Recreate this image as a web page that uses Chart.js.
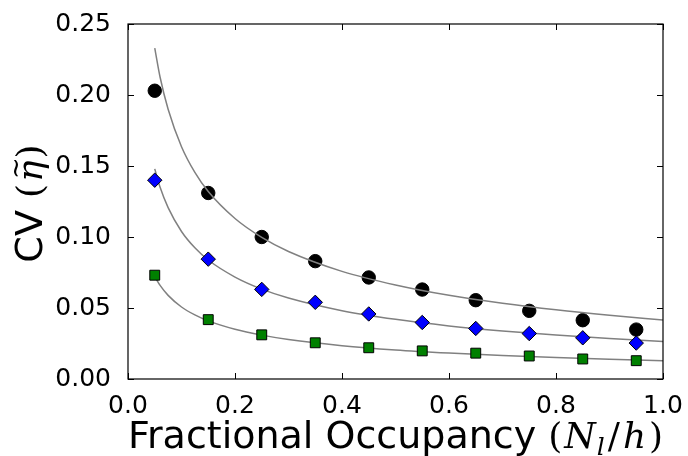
<!DOCTYPE html>
<html>
<head>
<meta charset="utf-8">
<script src="https://cdn.jsdelivr.net/npm/chart.js@4.4.0/dist/chart.umd.min.js"></script>
<style>
  html, body { margin: 0; padding: 0; background: #fff; }
  #wrap { width: 688px; height: 456px; position: relative; }
</style>
</head>
<body>
<div id="wrap"><canvas id="grafico"></canvas></div>
<script>
// ocupação fracionária (eixo X) e CV medido de cada série
const occupancy = [0.05, 0.15, 0.25, 0.35, 0.45, 0.55, 0.65, 0.75, 0.85, 0.95];
const cvBlack = [0.203, 0.131, 0.100, 0.083, 0.0715, 0.063, 0.0555, 0.048, 0.0414, 0.0348];
const cvBlue = [0.140, 0.0844, 0.0631, 0.054, 0.0458, 0.0398, 0.0356, 0.032, 0.029, 0.0253];
const cvGreen = [0.0731, 0.0418, 0.0311, 0.0255, 0.022, 0.0198, 0.0182, 0.0162, 0.0141, 0.0129];

// curvas cinzas (ajuste)
const fitX = [0.05, 0.06, 0.075, 0.1, 0.125, 0.15, 0.2, 0.25, 0.3, 0.4, 0.5, 0.6, 0.7, 0.8, 0.9, 1.0];
const fitBlack = [0.233, 0.2125, 0.190, 0.1636, 0.1455, 0.132, 0.113, 0.0997, 0.0898, 0.0758, 0.0662, 0.0589, 0.0533, 0.0487, 0.0449, 0.0416];
const fitBlue = [0.148, 0.135, 0.1207, 0.1039, 0.0924, 0.0838, 0.0718, 0.0633, 0.0570, 0.0481, 0.0420, 0.0374, 0.0338, 0.0309, 0.0285, 0.0264];
const fitGreen = [0.0722, 0.0659, 0.0589, 0.0507, 0.0451, 0.0409, 0.0350, 0.0309, 0.0278, 0.0235, 0.0205, 0.0183, 0.0165, 0.0151, 0.0139, 0.0129];

const xTicks = [0, 0.2, 0.4, 0.6, 0.8, 1.0];
const xTickLabels = ["0.0", "0.2", "0.4", "0.6", "0.8", "1.0"];
const yTicks = [0, 0.05, 0.10, 0.15, 0.20, 0.25];
const yTickLabels = ["0.00", "0.05", "0.10", "0.15", "0.20", "0.25"];

const pts = (xs, ys) => xs.map((x, i) => ({ x: x, y: ys[i] }));

const SANS = "'DejaVu Sans', sans-serif";
const SERIF = "'DejaVu Serif', serif";

// mede/desenha uma sequência de pedaços de texto (fonte, deslocamento, espaço extra)
function medir(ctx, partes) {
  let total = 0;
  partes.forEach((p) => {
    ctx.font = p.f;
    p.w = ctx.measureText(p.t).width + (p.gap || 0);
    total += p.w;
  });
  return total;
}

function desenhar(ctx, partes, x0, y0) {
  let cx = x0;
  partes.forEach((p) => {
    ctx.font = p.f;
    ctx.fillText(p.t, cx, y0 + (p.dy || 0));
    if (p.til) {
      // til sobre o eta
      ctx.font = "26px " + SERIF;
      ctx.fillText("~", cx + 3, y0 - 18);
    }
    cx += p.w;
  });
}

// moldura, ticks internos e títulos dos eixos
const molduraPlugin = {
  id: "moldura",
  afterDraw(chart) {
    const ctx = chart.ctx;
    const a = chart.chartArea;
    const sx = chart.scales.x;
    const sy = chart.scales.y;
    ctx.save();
    ctx.strokeStyle = "#000";
    ctx.lineWidth = 1;

    const tl = 6;
    ctx.beginPath();
    xTicks.forEach((v) => {
      const px = Math.round(sx.getPixelForValue(v)) + 0.5;
      ctx.moveTo(px, a.bottom); ctx.lineTo(px, a.bottom - tl);
      ctx.moveTo(px, a.top); ctx.lineTo(px, a.top + tl);
    });
    yTicks.forEach((v) => {
      const py = Math.round(sy.getPixelForValue(v)) + 0.5;
      ctx.moveTo(a.left, py); ctx.lineTo(a.left + tl, py);
      ctx.moveTo(a.right, py); ctx.lineTo(a.right - tl, py);
    });
    ctx.stroke();

    ctx.lineWidth = 1.2;
    ctx.strokeRect(a.left, a.top, a.right - a.left, a.bottom - a.top);

    ctx.fillStyle = "#000";
    ctx.textBaseline = "alphabetic";
    ctx.textAlign = "left";

    // título do eixo X
    const partesX = [
      { t: "Fractional Occupancy ", f: "38px " + SANS },
      { t: "(", f: "36px " + SERIF, gap: 2 },
      { t: "N", f: "italic 36px " + SERIF, gap: 1 },
      { t: "l", f: "italic 25px " + SERIF, dy: 7, gap: 3 },
      { t: "/", f: "36px " + SERIF, gap: 3 },
      { t: "h", f: "italic 36px " + SERIF, gap: 3 },
      { t: ")", f: "36px " + SERIF },
    ];
    const totalX = medir(ctx, partesX);
    desenhar(ctx, partesX, (a.left + a.right) / 2 - totalX / 2, 448);

    // título do eixo Y (rotacionado)
    const partesY = [
      { t: "CV ", f: "38px " + SANS },
      { t: "(", f: "36px " + SERIF, gap: 2 },
      { t: "\u03B7", f: "italic 36px " + SERIF, gap: 2, til: true },
      { t: ")", f: "36px " + SERIF },
    ];
    const totalY = medir(ctx, partesY);
    ctx.translate(42, (a.top + a.bottom) / 2 + 2);
    ctx.rotate(-Math.PI / 2);
    desenhar(ctx, partesY, -totalY / 2, 0);
    ctx.restore();
  },
};

const ctx = document.getElementById("grafico").getContext("2d");

const curva = (dados, ordem) => ({
  data: pts(fitX, dados),
  showLine: true,
  borderColor: "#808080",
  borderWidth: 1.5,
  pointRadius: 0,
  cubicInterpolationMode: "monotone",
  order: ordem,
});

const marcador = (ys, estilo, cor, raio, ordem) => ({
  data: pts(occupancy, ys),
  showLine: false,
  pointStyle: estilo,
  pointRadius: raio,
  backgroundColor: cor,
  borderColor: "#000",
  borderWidth: 1,
  order: ordem,
});

// a curva preta fica por cima dos círculos; azul e verde ficam por baixo dos marcadores
const myChart = new Chart(ctx, {
  type: "scatter",
  data: {
    datasets: [
      marcador(cvBlack, "circle", "#000000", 6.7, 6),
      curva(fitBlack, 5),
      curva(fitBlue, 4),
      curva(fitGreen, 3),
      marcador(cvBlue, "rectRot", "#0000ff", 7.2, 2),
      marcador(cvGreen, "rect", "#008000", 7, 1),
    ],
  },
  options: {
    responsive: true,
    maintainAspectRatio: false,
    animation: false,
    layout: { padding: { left: 0, top: 23, right: 25, bottom: 0 } },
    plugins: {
      legend: { display: false },
      tooltip: { enabled: false },
    },
    scales: {
      x: {
        type: "linear",
        min: 0,
        max: 1,
        afterBuildTicks: (s) => { s.ticks = xTicks.map((v) => ({ value: v })); },
        afterFit: (s) => { s.height = 77; },
        grid: { display: false },
        border: { display: false },
        ticks: {
          padding: 4,
          color: "#000",
          font: { family: SANS, size: 25 },
          maxRotation: 0,
          callback: (v, i) => xTickLabels[i],
        },
      },
      y: {
        type: "linear",
        min: 0,
        max: 0.25,
        afterBuildTicks: (s) => { s.ticks = yTicks.map((v) => ({ value: v })); },
        afterFit: (s) => { s.width = 128; },
        grid: { display: false },
        border: { display: false },
        ticks: {
          padding: 9,
          color: "#000",
          font: { family: SANS, size: 25 },
          callback: (v, i) => yTickLabels[i],
        },
      },
    },
  },
  plugins: [molduraPlugin],
});
</script>
</body>
</html>
